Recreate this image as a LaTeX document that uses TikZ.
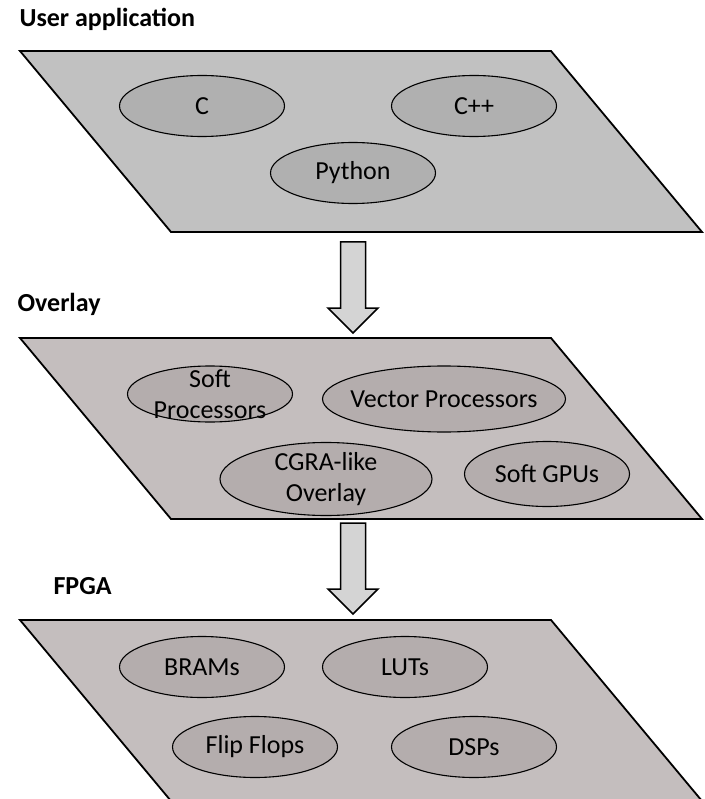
\documentclass[tikz,border=0pt]{standalone}
\usepackage{fontspec}
\setmainfont{Carlito}
\usetikzlibrary{shapes.geometric}

\definecolor{plategray}{RGB}{193,193,193}
\definecolor{platepink}{RGB}{196,190,190}
\definecolor{blobgray}{RGB}{176,176,176}
\definecolor{blobpink}{RGB}{180,173,173}
\definecolor{arrowgray}{RGB}{212,212,212}

\tikzset{
  plate/.style={draw=black, line width=1.8pt, line join=miter},
  blob/.style={ellipse, draw=black, line width=1.1pt, inner sep=0pt,
    minimum width=165pt, minimum height=61pt, align=center,
    font=\fontsize{26}{31}\selectfont},
  tightblob/.style={blob, inner sep=-18pt},
  layerlabel/.style={anchor=west, font=\bfseries\fontsize{26}{30}\selectfont},
  blockarrow/.style={draw=black, fill=arrowgray, line width=1.5pt, line join=miter}
}

\begin{document}
\begin{tikzpicture}[x=1pt, y=-1pt]
\useasboundingbox (0,0) rectangle (704,799);

%%%%%%%%%%%%%%%%%%%%%%%%%%%%%%%
\node[layerlabel] (userlbl) at (16,19) {User application};
\draw[plate, fill=plategray]
(20,51) -- (551,51) -- (702,232) -- (171,232) -- cycle;

\node[blob, fill=blobgray] (c) at (202,106) {C};
\node[blob, fill=blobgray] (cpp) at (474,106) {C++};
\node[blob, fill=blobgray] (python) at (353,173) {Python};

%%%%%%%%%%%%%%%%%%%%%%%%%%%%%%%
\node[layerlabel] (overlaylbl) at (14,304) {Overlay};
\draw[plate, fill=platepink]
(20,338) -- (551,338) -- (702,519) -- (171,519) -- cycle;

\node[tightblob, fill=blobpink, minimum height=56pt] (soft) at (210,394) {Soft\\Processors};
\node[tightblob, fill=blobpink, minimum width=243pt, minimum height=66pt] (vector) at (444,399) {Vector Processors};
\node[tightblob, fill=blobpink, minimum width=212pt, minimum height=73pt] (cgra) at (326,479) {CGRA-like\\Overlay};
\node[blob, fill=blobpink, minimum height=65pt] (gpus) at (547,474) {Soft GPUs};

%%%%%%%%%%%%%%%%%%%%%%%%%%%%%%%
\node[layerlabel] (fpgalbl) at (50,586) {FPGA};
\draw[plate, fill=platepink]
(20,620) -- (551,620) -- (702,801) -- (171,801) -- cycle;

\node[blob, fill=blobpink] (brams) at (202,667) {BRAMs};
\node[blob, fill=blobpink] (luts) at (405,667) {LUTs};
\node[blob, fill=blobpink] (flipflops) at (255,747) {Flip Flops};
\node[blob, fill=blobpink] (dsps) at (474,747) {DSPs};

%%%%%%%%%%%%%%%%%%%%%%%%%%%%%%%
\coordinate (userout) at (353,242);
\coordinate (overlayout) at (353,523);

\draw[blockarrow] (userout) ++(-12.5,0) -- ++(25,0) -- ++(0,66) -- ++(12.5,0)
-- ++(-25,25) -- ++(-25,-25) -- ++(12.5,0) -- cycle;
\draw[blockarrow] (overlayout) ++(-12.5,0) -- ++(25,0) -- ++(0,66) -- ++(12.5,0)
-- ++(-25,25) -- ++(-25,-25) -- ++(12.5,0) -- cycle;
\end{tikzpicture}
\end{document}
